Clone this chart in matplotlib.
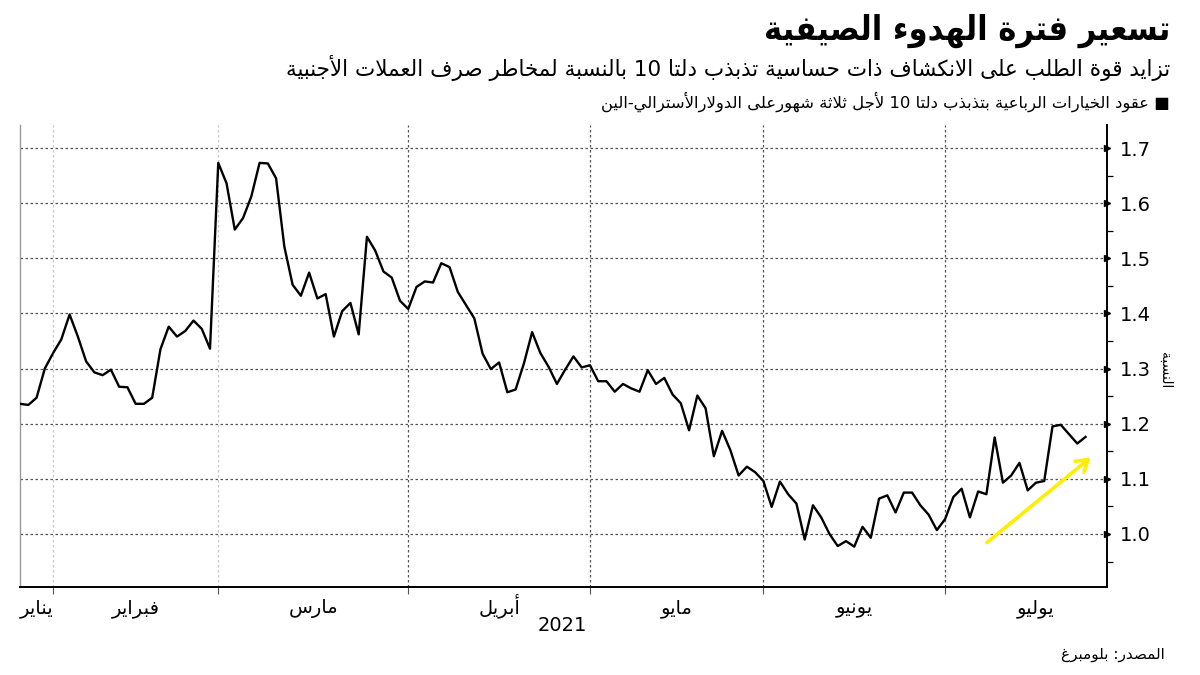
import re
import matplotlib
matplotlib.use('Agg')
import matplotlib.pyplot as plt
import numpy as np
import pandas as pd

# data: 3m 10-delta butterfly AUDJPY, business days from 26 Jan 2021
start_date = '2021-01-26'
values = [
    1.236, 1.234, 1.247, 1.300, 1.328, 1.353, 1.398, 1.358, 1.313, 1.293,
    1.288, 1.298, 1.267, 1.266, 1.236, 1.236, 1.247, 1.335, 1.376, 1.358,
    1.368, 1.387, 1.372, 1.336, 1.673, 1.636, 1.552, 1.573, 1.612, 1.673,
    1.672, 1.645, 1.521, 1.452, 1.432, 1.474, 1.427, 1.435, 1.358, 1.404,
    1.419, 1.362, 1.539, 1.514, 1.476, 1.465, 1.423, 1.408, 1.448, 1.458,
    1.456, 1.491, 1.484, 1.439, 1.415, 1.391, 1.327, 1.299, 1.311, 1.257,
    1.262, 1.309, 1.366, 1.328, 1.303, 1.272, 1.298, 1.322, 1.302, 1.306,
    1.277, 1.277, 1.258, 1.272, 1.264, 1.258, 1.297, 1.272, 1.283, 1.253,
    1.237, 1.188, 1.251, 1.228, 1.141, 1.187, 1.152, 1.106, 1.122, 1.112,
    1.096, 1.049, 1.095, 1.072, 1.055, 0.990, 1.052, 1.030, 1.000, 0.978,
    0.987, 0.977, 1.013, 0.993, 1.064, 1.070, 1.039, 1.075, 1.075, 1.052,
    1.035, 1.007, 1.027, 1.067, 1.082, 1.030, 1.077, 1.072, 1.175, 1.093,
    1.106, 1.129, 1.079, 1.093, 1.096, 1.195, 1.198, 1.181, 1.164, 1.176,
]
month_names = ['يناير', 'فبراير', 'مارس', 'أبريل', 'مايو', 'يونيو', 'يوليو']
y_ticks = [1.0, 1.1, 1.2, 1.3, 1.4, 1.5, 1.6, 1.7]
y_minor = [0.95, 1.05, 1.15, 1.25, 1.35, 1.45, 1.55, 1.65]

title = 'تسعير فترة الهدوء الصيفية'
subtitle = 'تزايد قوة الطلب على الانكشاف ذات حساسية تذبذب دلتا 10 بالنسبة لمخاطر صرف العملات الأجنبية'
legend_text = 'عقود الخيارات الرباعية بتذبذب دلتا 10 لأجل ثلاثة شهورعلى الدولارالأسترالي-الين'
y_label = 'النسبة'
source = 'المصدر: بلومبرغ'
year = '2021'

# arrow annotation (index, value)
arrow_tail = (116.8, 0.981)
arrow_head = (129.9, 1.142)


# matplotlib has no arabic shaping, so do it by hand
FORMS = {
    'ء': (0xFE80, 1), 'آ': (0xFE81, 2), 'أ': (0xFE83, 2), 'ؤ': (0xFE85, 2),
    'إ': (0xFE87, 2), 'ئ': (0xFE89, 4), 'ا': (0xFE8D, 2), 'ب': (0xFE8F, 4),
    'ة': (0xFE93, 2), 'ت': (0xFE95, 4), 'ث': (0xFE99, 4), 'ج': (0xFE9D, 4),
    'ح': (0xFEA1, 4), 'خ': (0xFEA5, 4), 'د': (0xFEA9, 2), 'ذ': (0xFEAB, 2),
    'ر': (0xFEAD, 2), 'ز': (0xFEAF, 2), 'س': (0xFEB1, 4), 'ش': (0xFEB5, 4),
    'ص': (0xFEB9, 4), 'ض': (0xFEBD, 4), 'ط': (0xFEC1, 4), 'ظ': (0xFEC5, 4),
    'ع': (0xFEC9, 4), 'غ': (0xFECD, 4), 'ف': (0xFED1, 4), 'ق': (0xFED5, 4),
    'ك': (0xFED9, 4), 'ل': (0xFEDD, 4), 'م': (0xFEE1, 4), 'ن': (0xFEE5, 4),
    'ه': (0xFEE9, 4), 'و': (0xFEED, 2), 'ى': (0xFEEF, 2), 'ي': (0xFEF1, 4),
}
LAM_ALEF = {'ا': 0xFEFB, 'أ': 0xFEF7, 'إ': 0xFEF9, 'آ': 0xFEF5}


def shape(text):
    toks = []
    i = 0
    while i < len(text):
        c = text[i]
        if c == 'ل' and i + 1 < len(text) and text[i + 1] in LAM_ALEF:
            toks.append(('LA', LAM_ALEF[text[i + 1]]))
            i += 2
        else:
            toks.append((c, None))
            i += 1

    def dual(ch):
        return ch in FORMS and FORMS[ch][1] == 4

    def joinable(ch):
        return ch == 'LA' or (ch in FORMS and FORMS[ch][1] > 1)

    out = []
    for k, (c, lig) in enumerate(toks):
        prev = toks[k - 1][0] if k > 0 else None
        nxt = toks[k + 1][0] if k + 1 < len(toks) else None
        jp = prev is not None and dual(prev) and joinable(c)
        if c == 'LA':
            out.append(chr(lig + (1 if jp else 0)))
            continue
        if c not in FORMS:
            out.append(c)
            continue
        base, n = FORMS[c]
        jn = n == 4 and nxt is not None and joinable(nxt)
        if n == 1:
            out.append(chr(base))
        elif jp and jn:
            out.append(chr(base + 3))
        elif jp:
            out.append(chr(base + 1))
        elif jn:
            out.append(chr(base + 2))
        else:
            out.append(chr(base))
    s = ''.join(out)[::-1]
    return re.sub(r'[0-9]+', lambda m: m.group(0)[::-1], s)


plt.rcParams['font.family'] = ['DejaVu Sans']

dates = pd.bdate_range(start_date, periods=len(values))
x = np.arange(len(values))
xmax = 131.6

fig = plt.figure(figsize=(12, 6.75), dpi=100)
ax = fig.add_axes([0.0167, 0.1304, 0.9058, 0.6844])

ax.plot(x, values, color='black', lw=1.7, zorder=3)

ax.set_xlim(0, xmax)
ax.set_ylim(0.9038, 1.7417)

# month boundaries and centred labels, on the business-day index
all_days = pd.bdate_range('2021-01-01', '2021-07-31')
offset = all_days.get_loc(dates[0])
idx = np.arange(len(all_days)) - offset
months = all_days.month
bounds = []
centers = []
for m in range(1, 8):
    sel = idx[months == m]
    lo = max(sel.min(), 0)
    hi = sel.max() + 1
    centers.append((lo + hi) / 2)
    if m > 1:
        bounds.append(sel.min())

grid_cols = ['#c8c8c8', '#c8c8c8', '#555555', '#555555', '#555555', '#555555']
for b, col in zip(bounds, grid_cols):
    ax.axvline(b, color=col, lw=0.9, ls=(0, (2, 2)), zorder=1)
for yv in y_ticks:
    ax.axhline(yv, color='#555555', lw=0.9, ls=(0, (2, 2)), zorder=1)

ax.set_xticks(bounds)
ax.set_xticklabels([])
ax.tick_params(axis='x', which='major', length=5, color='#555555', width=0.8)
ax.set_xticks(centers, minor=True)
ax.set_xticklabels([shape(m) for m in month_names], minor=True, fontsize=14)
ax.tick_params(axis='x', which='minor', length=0, pad=19)
for lab in ax.get_xticklabels(minor=True):
    lab.set_verticalalignment('baseline')

ax.yaxis.tick_right()
ax.set_yticks(y_ticks)
ax.set_yticklabels([f'{v:.1f}' for v in y_ticks], fontsize=14)
ax.set_yticks(y_minor, minor=True)
ax.tick_params(axis='y', which='major', length=0, pad=9)
ax.tick_params(axis='y', which='minor', length=4, width=0.9, direction='out')
ax.plot(np.full(len(y_ticks), 1.0), y_ticks, ls='none', marker='>', ms=5,
        color='black', transform=ax.get_yaxis_transform(), clip_on=False, zorder=5)

ax.spines['top'].set_visible(False)
ax.spines['left'].set_color('#999999')
ax.spines['left'].set_linewidth(1.0)
ax.spines['bottom'].set_linewidth(1.4)
ax.spines['right'].set_linewidth(1.4)

ax.annotate('', xy=arrow_head, xytext=arrow_tail,
            arrowprops=dict(arrowstyle='->,head_length=0.8,head_width=0.5',
                            color='#FFEE00', lw=2.6), zorder=4)

fig.text(0.971, 0.452, shape(y_label), rotation=270, fontsize=10,
         ha='center', va='center')

fig.text(0.975, 0.955, shape(title), fontsize=24.5, fontweight='bold',
         ha='right', va='center', fontstretch='condensed')
fig.text(0.975, 0.899, shape(subtitle), fontsize=15.5, ha='right', va='center')
fig.text(0.975, 0.849, shape(legend_text) + ' \u25A0', fontsize=11.8,
         ha='right', va='center')
fig.text(0.469, 0.074, year, fontsize=14, ha='center', va='center')
fig.text(0.971, 0.030, shape(source), fontsize=11, ha='right', va='center')

fig.savefig('out.png', dpi=100)
